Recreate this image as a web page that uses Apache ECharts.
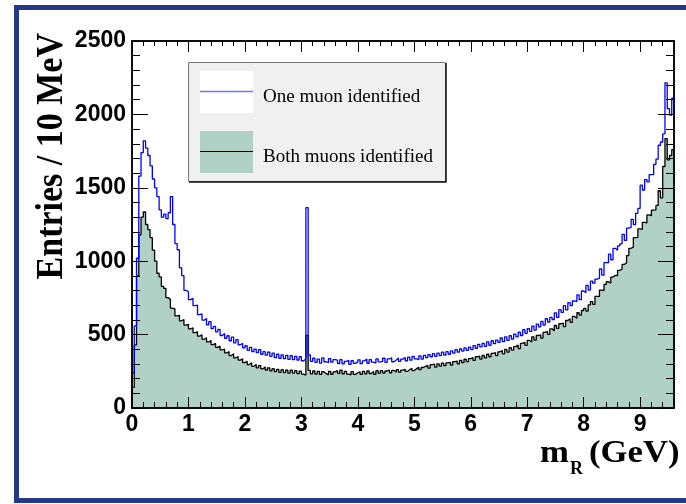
<!DOCTYPE html>
<html>
<head>
<meta charset="utf-8">
<script src="https://cdn.jsdelivr.net/npm/echarts@6/dist/echarts.min.js"></script>
<style>
  html, body { margin: 0; padding: 0; background: #ffffff; }
  #chart { width: 686px; height: 504px; }
</style>
</head>
<body>
<div id="chart"></div>
<script>
// Invariant-mass histogram, 0.04 GeV wide bins from 0 to 9.6 GeV (values are entries per 10 MeV)
const BIN_WIDTH = 0.04;
const X_MAX = 9.6;
const Y_MAX = 2500;

const xMajorTicks = [0, 1, 2, 3, 4, 5, 6, 7, 8, 9];
const yMajorTicks = [0, 500, 1000, 1500, 2000, 2500];

const seriesNames = ['One muon identified', 'Both muons identified'];

// One muon identified (blue outline)
const oneMuon = [
  240, 560, 1020, 1580, 1740, 1820, 1770, 1720, 1650, 1560,   // 0.0 - 0.4
  1500, 1440, 1350, 1300, 1320, 1290, 1330, 1440, 1250, 1120, // 0.4 - 0.8
  1078, 955, 902, 801, 792, 738, 748, 698, 701, 636,          // 0.8 - 1.2
  641, 598, 610, 566, 589, 541, 556, 519, 535, 494,           // 1.2 - 1.6
  507, 474, 492, 458, 483, 444, 466, 431, 440, 409,           // 1.6 - 2.0
  424, 393, 413, 385, 401, 377, 398, 366, 384, 360,           // 2.0 - 2.4
  381, 352, 374, 343, 366, 339, 362, 336, 358, 331,           // 2.4 - 2.8
  357, 330, 352, 327, 349, 322, 334, 1365, 361, 318,          // 2.8 - 3.2
  339, 311, 333, 306, 341, 315, 309, 337, 312, 330,           // 3.2 - 3.6
  326, 303, 329, 300, 318, 325, 297, 322, 304, 314,           // 3.6 - 4.0
  328, 302, 321, 333, 305, 330, 312, 306, 335, 314,           // 4.0 - 4.4
  317, 339, 311, 334, 342, 315, 327, 340, 318, 333,           // 4.4 - 4.8
  344, 322, 347, 326, 351, 335, 329, 355, 333, 358,           // 4.8 - 5.2
  343, 364, 349, 370, 352, 374, 357, 380, 361, 384,           // 5.2 - 5.6
  366, 389, 374, 397, 380, 402, 388, 409, 393, 414,           // 5.6 - 6.0
  398, 425, 407, 433, 416, 440, 420, 451, 427, 458,           // 6.0 - 6.4
  438, 463, 447, 477, 452, 485, 461, 492, 470, 503,           // 6.4 - 6.8
  485, 516, 494, 533, 509, 541, 522, 558, 531, 572,           // 6.8 - 7.2
  553, 590, 565, 608, 586, 617, 603, 648, 618, 670,           // 7.2 - 7.6
  651, 697, 668, 718, 698, 729, 725, 771, 738, 797,           // 7.6 - 8.0
  786, 836, 803, 864, 850, 878, 884, 947, 905, 990,           // 8.0 - 8.4
  990, 1048, 1010, 1088, 1075, 1104, 1118, 1183, 1142, 1225,  // 8.4 - 8.8
  1230, 1285, 1250, 1326, 1360, 1518, 1485, 1556, 1540, 1590, // 8.8 - 9.2
  1590, 1660, 1695, 1790, 1812, 1868, 2215, 2040, 1995, 2110  // 9.2 - 9.6
];

// Both muons identified (filled, black outline)
const bothMuons = [
  140, 430, 900, 1180, 1300, 1335, 1250, 1215, 1160, 1075,    // 0.0 - 0.4
  1000, 918, 893, 829, 815, 752, 740, 681, 676, 628,          // 0.4 - 0.8
  631, 594, 603, 565, 570, 539, 546, 514, 519, 490,           // 0.8 - 1.2
  499, 468, 478, 450, 459, 432, 440, 413, 421, 396,           // 1.2 - 1.6
  401, 375, 384, 357, 369, 342, 351, 326, 335, 309,           // 1.6 - 2.0
  319, 296, 308, 284, 297, 274, 289, 267, 280, 259,           // 2.0 - 2.4
  274, 253, 268, 248, 263, 243, 261, 241, 257, 238,           // 2.4 - 2.8
  258, 238, 254, 234, 251, 231, 224, 495, 256, 232,           // 2.8 - 3.2
  252, 231, 249, 229, 247, 234, 226, 250, 230, 246,           // 3.2 - 3.6
  255, 236, 258, 233, 249, 231, 226, 248, 229, 240,           // 3.6 - 4.0
  247, 229, 250, 233, 252, 235, 248, 230, 254, 237,           // 4.0 - 4.4
  255, 238, 252, 259, 240, 256, 243, 261, 244, 258,           // 4.4 - 4.8
  264, 249, 262, 271, 255, 268, 277, 261, 276, 283,           // 4.8 - 5.2
  290, 272, 295, 299, 278, 301, 285, 305, 288, 308,           // 5.2 - 5.6
  311, 293, 316, 320, 300, 325, 309, 332, 316, 337,           // 5.6 - 6.0
  343, 324, 349, 354, 333, 358, 341, 366, 349, 372,           // 6.0 - 6.4
  377, 357, 383, 391, 369, 399, 381, 411, 394, 418,           // 6.4 - 6.8
  428, 405, 440, 448, 427, 460, 449, 485, 463, 494,           // 6.8 - 7.2
  499, 476, 515, 523, 501, 539, 527, 562, 543, 574,           // 7.2 - 7.6
  578, 555, 596, 608, 583, 624, 612, 649, 633, 664,           // 7.6 - 8.0
  678, 660, 703, 725, 706, 761, 760, 803, 800, 842,           // 8.0 - 8.4
  860, 851, 892, 904, 902, 938, 945, 978, 990, 1038,          // 8.4 - 8.8
  1088, 1096, 1160, 1163, 1220, 1217, 1265, 1261, 1315, 1310, // 8.8 - 9.2
  1348, 1350, 1380, 1480, 1432, 1645, 1835, 1690, 1720, 1760  // 9.2 - 9.6
];

// Turn bin contents into [lowEdge, value] points for a step outline
function histPoints(values) {
  const pts = values.map((v, i) => [+(i * BIN_WIDTH).toFixed(2), v]);
  pts.unshift([0, 0]);
  pts.push([X_MAX, values[values.length - 1]]);
  return pts;
}

const isMajor = (list, v) => list.some(t => Math.abs(t - v) < 1e-6);

const tickFont = {
  fontFamily: '"Liberation Sans", Arial, sans-serif',
  fontWeight: 'bold',
  fontSize: 23,
  color: '#000'
};

function xAxisDef(position, interval, tickLen, withLabels) {
  return {
    type: 'value', position, min: 0, max: X_MAX, interval, z: 5,
    axisLine: { show: true, onZero: false, lineStyle: { color: '#000', width: 1.5 } },
    axisTick: { show: true, inside: true, length: tickLen, lineStyle: { color: '#000', width: 1 } },
    axisLabel: withLabels ? Object.assign({
      show: true, margin: 5,
      formatter: v => isMajor(xMajorTicks, v) ? String(Math.round(v)) : ''
    }, tickFont) : { show: false },
    splitLine: { show: false }
  };
}

function yAxisDef(position, interval, tickLen, withLabels) {
  return {
    type: 'value', position, min: 0, max: Y_MAX, interval, z: 5,
    axisLine: { show: true, onZero: false, lineStyle: { color: '#000', width: 1.5 } },
    axisTick: { show: true, inside: true, length: tickLen, lineStyle: { color: '#000', width: 1 } },
    axisLabel: withLabels ? Object.assign({
      show: true, margin: 6,
      formatter: v => isMajor(yMajorTicks, v) ? String(Math.round(v)) : ''
    }, tickFont) : { show: false },
    splitLine: { show: false }
  };
}

const FILL = '#b1d1c6';
const serif = '"Liberation Serif", "Times New Roman", serif';

const chart = echarts.init(document.getElementById('chart'), null, { renderer: 'canvas' });

chart.setOption({
  animation: false,
  backgroundColor: '#ffffff',
  grid: { left: 132, top: 41, width: 542, height: 367, outerBoundsMode: 'none' },
  xAxis: [
    xAxisDef('bottom', 0.2, 6, true),
    xAxisDef('bottom', 1, 11, false),
    xAxisDef('top', 0.2, 5, false),
    xAxisDef('top', 1, 11, false)
  ],
  yAxis: [
    yAxisDef('left', 100, 8, true),
    yAxisDef('left', 500, 16, false),
    yAxisDef('right', 100, 8, false),
    yAxisDef('right', 500, 16, false)
  ],
  series: [
    {
      name: seriesNames[1], type: 'line', step: 'end',
      xAxisIndex: 0, yAxisIndex: 0,
      data: histPoints(bothMuons),
      showSymbol: false, symbol: 'none',
      lineStyle: { color: '#000000', width: 1.3 },
      areaStyle: { color: FILL, opacity: 1, origin: 'start' },
      z: 2
    },
    {
      name: seriesNames[0], type: 'line', step: 'end',
      xAxisIndex: 0, yAxisIndex: 0,
      data: histPoints(oneMuon),
      showSymbol: false, symbol: 'none',
      lineStyle: { color: '#0000ff', width: 1.3 },
      z: 3
    }
  ],
  graphic: {
    elements: [
      // outer canvas frame
      { type: 'rect', silent: true, z: 100,
        shape: { x: 16.5, y: 7.5, width: 700, height: 493 },
        style: { fill: 'none', stroke: '#22398a', lineWidth: 5 } },

      // axis titles
      { type: 'text', silent: true, z: 100, x: 52, y: 33, rotation: Math.PI / 2, scaleY: 1.1,
        style: { text: 'Entries / 10 MeV', font: 'bold 34px ' + serif, fill: '#000',
                 align: 'right', textAlign: 'right', verticalAlign: 'middle', textVerticalAlign: 'middle' } },
      { type: 'text', silent: true, z: 100, x: 540, y: 453.5, scaleX: 1.12,
        style: { text: 'm', font: 'bold 31px ' + serif, fill: '#000',
                 align: 'left', textAlign: 'left', verticalAlign: 'middle', textVerticalAlign: 'middle' } },
      { type: 'text', silent: true, z: 100, x: 570, y: 469.5,
        style: { text: 'R', font: 'bold 18px ' + serif, fill: '#000',
                 align: 'left', textAlign: 'left', verticalAlign: 'middle', textVerticalAlign: 'middle' } },
      { type: 'text', silent: true, z: 100, x: 589, y: 453.5, scaleX: 1.12,
        style: { text: '(GeV)', font: 'bold 31px ' + serif, fill: '#000',
                 align: 'left', textAlign: 'left', verticalAlign: 'middle', textVerticalAlign: 'middle' } },

      // legend box
      { type: 'rect', silent: true, z: 50,
        shape: { x: 188.5, y: 62.5, width: 257, height: 119 },
        style: { fill: '#f0f0f0', stroke: '#777777', lineWidth: 1 } },
      { type: 'polyline', silent: true, z: 51,
        shape: { points: [[446, 63], [446, 182], [189, 182]] },
        style: { fill: 'none', stroke: '#111111', lineWidth: 1.5 } },
      { type: 'rect', silent: true, z: 51,
        shape: { x: 200, y: 71, width: 53, height: 42 },
        style: { fill: '#ffffff' } },
      { type: 'line', silent: true, z: 52,
        shape: { x1: 200, y1: 91.5, x2: 253, y2: 91.5 },
        style: { stroke: '#7272ff', lineWidth: 1.5 } },
      { type: 'text', silent: true, z: 52, x: 263, y: 96.9,
        style: { text: seriesNames[0], font: '19px ' + serif, fill: '#000',
                 align: 'left', textAlign: 'left', verticalAlign: 'middle', textVerticalAlign: 'middle' } },
      { type: 'rect', silent: true, z: 51,
        shape: { x: 200, y: 131, width: 53, height: 42 },
        style: { fill: FILL } },
      { type: 'line', silent: true, z: 52,
        shape: { x1: 200, y1: 151.5, x2: 253, y2: 151.5 },
        style: { stroke: '#000000', lineWidth: 1 } },
      { type: 'text', silent: true, z: 52, x: 263, y: 156.9,
        style: { text: seriesNames[1], font: '19px ' + serif, fill: '#000',
                 align: 'left', textAlign: 'left', verticalAlign: 'middle', textVerticalAlign: 'middle' } }
    ]
  }
});
</script>
</body>
</html>
